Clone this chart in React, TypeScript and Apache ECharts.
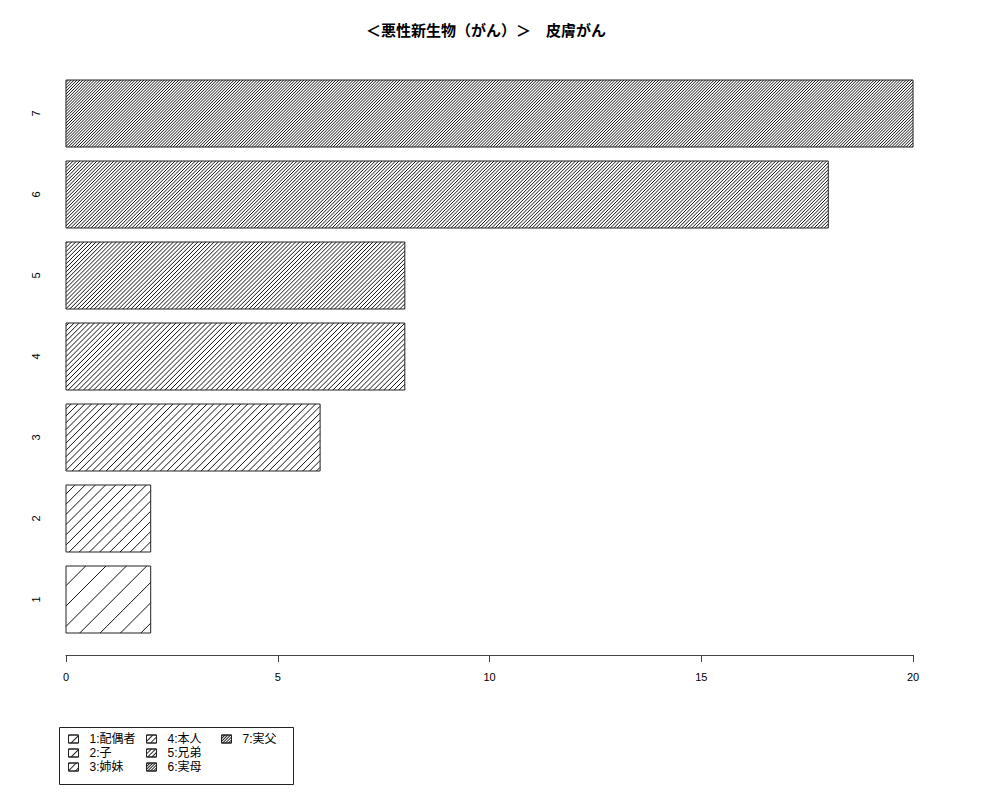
import * as echarts from "echarts";
import { useEffect, useRef } from "react";

const categories = ["1", "2", "3", "4", "5", "6", "7"];
const values = [2, 2, 6, 8, 8, 18, 20];
const legendNames = ["1:配偶者", "2:子", "3:姉妹", "4:本人", "5:兄弟", "6:実母", "7:実父"];
// hatch density (lines per inch, as in R's barplot)
const densities = [5, 10, 15, 20, 25, 30, 35];
const xTicks = [0, 5, 10, 15, 20];

const FONT = "'Liberation Sans', 'Noto Sans CJK JP', sans-serif";
const INK = "#222";

// bar with 45° hatching, lines anchored to the page origin like R does
function renderHatchBar(density: number) {
  return (params: any, api: any) => {
    const catIdx = api.value(1);
    const start = api.coord([0, catIdx]);
    const end = api.coord([api.value(0), catIdx]);
    const h = api.size([0, 1])[1] * (67 / 81);
    const x0 = start[0];
    const x1 = end[0];
    const y0 = start[1] - h / 2;
    const y1 = start[1] + h / 2;
    const step = (72 / density) * Math.SQRT2;
    const children: any[] = [
      {
        type: "rect",
        shape: { x: x0, y: y0, width: x1 - x0, height: y1 - y0 },
        style: { fill: "#fff", stroke: null },
      },
    ];
    for (let c = Math.ceil((x0 + y0) / step) * step; c <= x1 + y1; c += step) {
      const xa = Math.max(x0, c - y1);
      const xb = Math.min(x1, c - y0);
      if (xb - xa > 0.2) {
        children.push({
          type: "line",
          shape: { x1: xa, y1: c - xa, x2: xb, y2: c - xb },
          style: { stroke: "#111", lineWidth: 1 },
        });
      }
    }
    children.push({
      type: "rect",
      shape: { x: x0, y: y0, width: x1 - x0, height: y1 - y0 },
      style: { fill: "none", stroke: INK, lineWidth: 1 },
    });
    return { type: "group", children };
  };
}

function iconDecal(density: number) {
  const gap = Math.max(Math.round(72 / density) - 1, 1);
  return {
    symbol: "rect",
    symbolSize: 1,
    color: "#222",
    backgroundColor: "#fff",
    dashArrayX: [1, 0],
    dashArrayY: [1, Math.min(gap, 6)],
    rotation: -Math.PI / 4,
  };
}

const App = () => {
  const chartRef = useRef(null);

  useEffect(() => {
    if (!chartRef.current) {
      return;
    }
    const chart = echarts.init(chartRef.current, null, { renderer: "svg" });

    const series = legendNames.map((name, i) => ({
      name,
      type: "custom",
      renderItem: renderHatchBar(densities[i]),
      encode: { x: 0, y: 1 },
      data: [[values[i], i]],
      itemStyle: { color: "#fff", borderColor: INK },
      silent: true,
    }));

    const legendCol = (from: number, to: number, left: number) => ({
      orient: "vertical",
      left,
      top: 727,
      itemWidth: 10,
      itemHeight: 8,
      itemGap: 0,
      selectedMode: false,
      data: legendNames.slice(from, to).map((name, k) => ({
        name,
        icon: "rect",
        itemStyle: {
          color: "#fff",
          borderColor: INK,
          borderWidth: 1,
          decal: iconDecal(densities[from + k]),
        },
      })),
      textStyle: {
        fontFamily: FONT,
        fontSize: 12,
        color: "#000",
        lineHeight: 14,
        padding: [0, 0, 0, 6],
      },
    });

    chart.setOption({
      animation: false,
      backgroundColor: "#fff",
      title: {
        text: "＜悪性新生物（がん）＞　皮膚がん",
        left: 481,
        textAlign: "center",
        top: 18,
        textStyle: { fontFamily: FONT, fontSize: 15, fontWeight: "bold", color: "#000" },
      },
      grid: { left: 66, right: 87, top: 73, bottom: 160 },
      xAxis: {
        type: "value",
        min: xTicks[0],
        max: xTicks[xTicks.length - 1],
        interval: 5,
        offset: 15,
        splitLine: { show: false },
        axisLine: { show: true, lineStyle: { color: "#444", width: 1 } },
        axisTick: { show: true, length: 7, lineStyle: { color: "#444" } },
        axisLabel: { fontFamily: FONT, fontSize: 11, color: "#000", margin: 16 },
      },
      yAxis: {
        type: "category",
        data: categories,
        axisLine: { show: false },
        axisTick: { show: false },
        axisLabel: { fontFamily: FONT, fontSize: 11, color: "#000", rotate: 90, margin: 25 },
      },
      legend: [legendCol(0, 3, 63), legendCol(3, 6, 141), legendCol(6, 7, 216)],
      graphic: [
        {
          type: "rect",
          left: 57,
          top: 725,
          shape: { width: 234, height: 57 },
          style: { fill: "none", stroke: INK, lineWidth: 1 },
        },
      ],
      series,
    });

    return () => {
      chart.dispose();
    };
  }, []);

  return <div ref={chartRef} style={{ width: 1000, height: 800, margin: -8 }}></div>;
};

export default App;
